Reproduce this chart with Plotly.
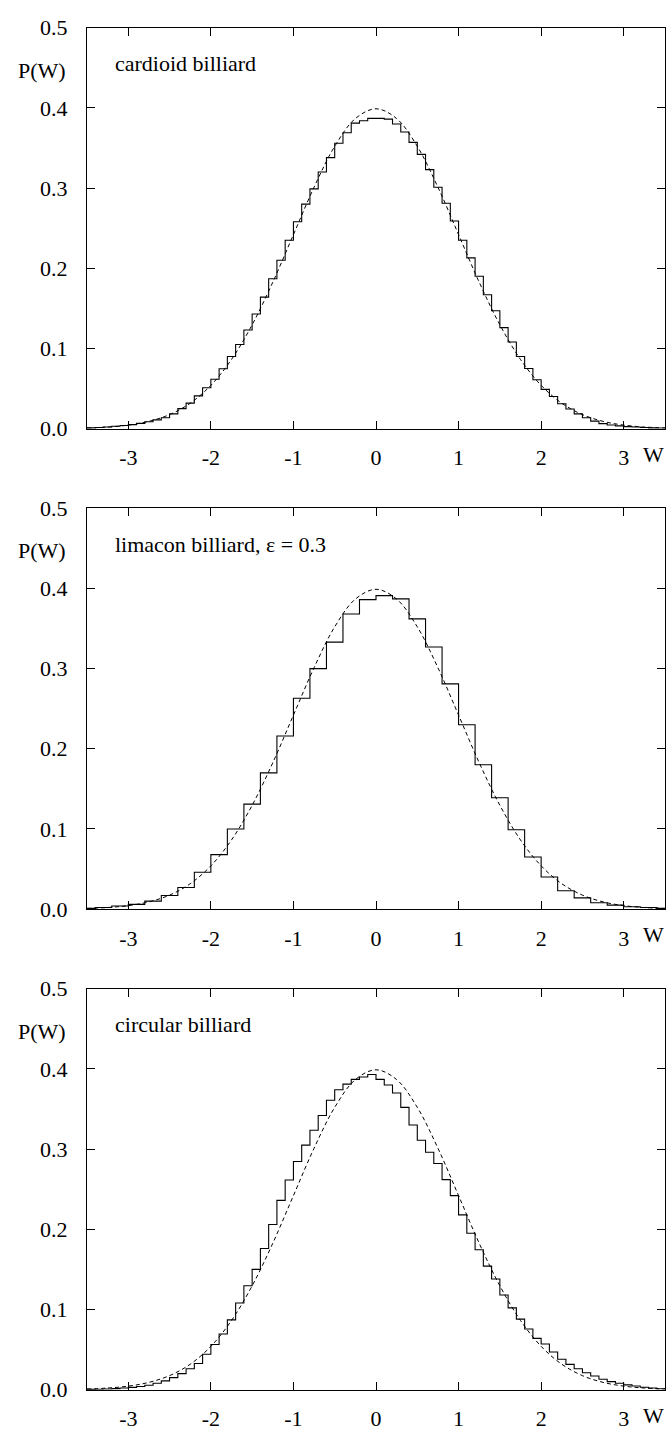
import numpy as np
import plotly.graph_objects as go

# ---------------- data ----------------
panel_titles = ["cardioid billiard", "limacon billiard, \u03b5 = 0.3", "circular billiard"]

# histogram bin layout: (first left edge, bin width)
cardioid_bins = (-3.5, 0.1)
limacon_bins = (-3.6, 0.2)
circular_bins = (-3.5, 0.1)

cardioid_values = [
    0.001, 0.0015, 0.002, 0.003, 0.004, 0.005, 0.0065, 0.0085, 0.0109, 0.0135,
    0.0184, 0.0249, 0.0318, 0.0408, 0.051, 0.0616, 0.0747, 0.090, 0.105, 0.123,
    0.143, 0.164, 0.187, 0.210, 0.235, 0.258, 0.280, 0.299, 0.320, 0.338,
    0.356, 0.369, 0.381, 0.384, 0.387,
    0.387, 0.386, 0.380, 0.370, 0.357, 0.342, 0.323, 0.301, 0.281, 0.259,
    0.235, 0.213, 0.190, 0.167, 0.147, 0.126, 0.108, 0.090, 0.075, 0.061,
    0.049, 0.040, 0.031, 0.0245, 0.0184, 0.0135, 0.0094, 0.0062, 0.0045, 0.0035,
    0.0025, 0.002, 0.0015, 0.001, 0.0008,
]

limacon_values = [
    0.001, 0.002, 0.004, 0.006, 0.010, 0.017, 0.027, 0.046, 0.068, 0.100,
    0.131, 0.170, 0.216, 0.263, 0.300, 0.333, 0.368, 0.386,
    0.391, 0.387, 0.362, 0.327, 0.281, 0.230, 0.180, 0.139, 0.099, 0.065,
    0.040, 0.023, 0.014, 0.008, 0.005, 0.003, 0.002, 0.001,
]

circular_values = [
    0.0004, 0.0006, 0.0009, 0.0013, 0.002, 0.0028, 0.004, 0.0055, 0.008, 0.011,
    0.015, 0.020, 0.026, 0.0327, 0.0441, 0.0564, 0.0695, 0.087, 0.108, 0.1295,
    0.150, 0.176, 0.206, 0.236, 0.2615, 0.2845, 0.305, 0.3235, 0.342, 0.361,
    0.374, 0.381, 0.387, 0.390, 0.393,
    0.387, 0.380, 0.370, 0.352, 0.330, 0.311, 0.296, 0.282, 0.262, 0.242,
    0.218, 0.195, 0.1745, 0.154, 0.138, 0.118, 0.102, 0.088, 0.0756, 0.064,
    0.057, 0.047, 0.038, 0.0315, 0.026, 0.021, 0.017, 0.013, 0.010, 0.008,
    0.006, 0.0045, 0.003, 0.002, 0.0012,
]

# dashed reference curve (Gaussian)
gauss_x = [-3.5, -3.25, -3.0, -2.75, -2.5, -2.25, -2.0, -1.75, -1.5, -1.25,
           -1.0, -0.75, -0.5, -0.25, 0.0, 0.25, 0.5, 0.75, 1.0, 1.25,
           1.5, 1.75, 2.0, 2.25, 2.5, 2.75, 3.0, 3.25, 3.5]
gauss_y = [0.0009, 0.0020, 0.0044, 0.0091, 0.0175, 0.0317, 0.0540, 0.0863, 0.1295, 0.1826,
           0.2420, 0.3011, 0.3521, 0.3867, 0.3989, 0.3867, 0.3521, 0.3011, 0.2420, 0.1826,
           0.1295, 0.0863, 0.0540, 0.0317, 0.0175, 0.0091, 0.0044, 0.0020, 0.0009]

x_ticks = [-3, -2, -1, 0, 1, 2, 3]
y_ticks = [0.0, 0.1, 0.2, 0.3, 0.4, 0.5]
x_range = [-3.5, 3.5]
y_range = [0.0, 0.5]
x_label = "W"
y_label = "P(W)"

# ---------------- layout ----------------
FONT = "Liberation Serif, Times New Roman, serif"
FS = 22
H = 1440
Wd = 671
x_dom = [87 / Wd, 665 / Wd]
panel_px = [(16, 424), (505, 913), (994, 1402)]

fig = go.Figure()
hists = [(cardioid_values, cardioid_bins), (limacon_values, limacon_bins), (circular_values, circular_bins)]

for i, (vals, (start, width)) in enumerate(hists):
    n = len(vals)
    edges = [round(start + width * k, 4) for k in range(n + 1)]
    xa = "x" if i == 0 else f"x{i+1}"
    ya = "y" if i == 0 else f"y{i+1}"
    fig.add_trace(go.Scatter(x=gauss_x, y=gauss_y, mode="lines", xaxis=xa, yaxis=ya,
                             line=dict(color="black", width=1, dash="4px,3px", shape="spline", smoothing=1.0),
                             showlegend=False, hoverinfo="skip"))
    fig.add_trace(go.Scatter(x=edges, y=list(vals) + [vals[-1]], mode="lines", xaxis=xa, yaxis=ya,
                             line=dict(color="black", width=1.1, shape="hv"),
                             showlegend=False, hoverinfo="skip"))

layout = dict(width=Wd, height=H, margin=dict(l=0, r=0, t=0, b=0),
              paper_bgcolor="white", plot_bgcolor="white",
              font=dict(family=FONT, size=FS, color="black"))
annotations = []
for i, (top, bot) in enumerate(panel_px):
    sfx = "" if i == 0 else str(i + 1)
    dom = [1 - bot / H, 1 - top / H]
    axcommon = dict(showline=True, linecolor="black", linewidth=1, mirror="ticks",
                    ticks="inside", ticklen=8, tickwidth=1, tickcolor="black",
                    showgrid=False, zeroline=False,
                    tickfont=dict(family=FONT, size=FS, color="black"))
    layout["xaxis" + sfx] = dict(domain=x_dom, range=x_range, tickvals=x_ticks,
                                 ticktext=[str(t) for t in x_ticks], ticklabelstandoff=9,
                                 anchor="y" + sfx, **axcommon)
    layout["yaxis" + sfx] = dict(domain=dom, range=y_range, tickvals=y_ticks,
                                 tickformat=".1f", ticklabelstandoff=14,
                                 anchor="x" + sfx, **axcommon)
    xr = "x" + sfx
    yr = "y" + sfx
    annotations.append(dict(text=panel_titles[i], x=-3.19, y=0.455, xref=xr, yref=yr,
                            xanchor="left", yanchor="middle", showarrow=False,
                            font=dict(family=FONT, size=FS, color="black")))
    annotations.append(dict(text=y_label, x=-3.5, y=0.447, xref=xr, yref=yr,
                            xanchor="right", yanchor="middle", xshift=-19, showarrow=False,
                            font=dict(family=FONT, size=FS, color="black")))
    annotations.append(dict(text=x_label, x=3.36, y=0.0, xref=xr, yref=yr,
                            xanchor="center", yanchor="top", yshift=-11, showarrow=False,
                            font=dict(family=FONT, size=FS, color="black")))
layout["annotations"] = annotations
fig.update_layout(**layout)
fig.write_html("out.html", config={"displayModeBar": False},
               post_script="document.body.style.margin='0';document.documentElement.style.overflow='hidden';")
